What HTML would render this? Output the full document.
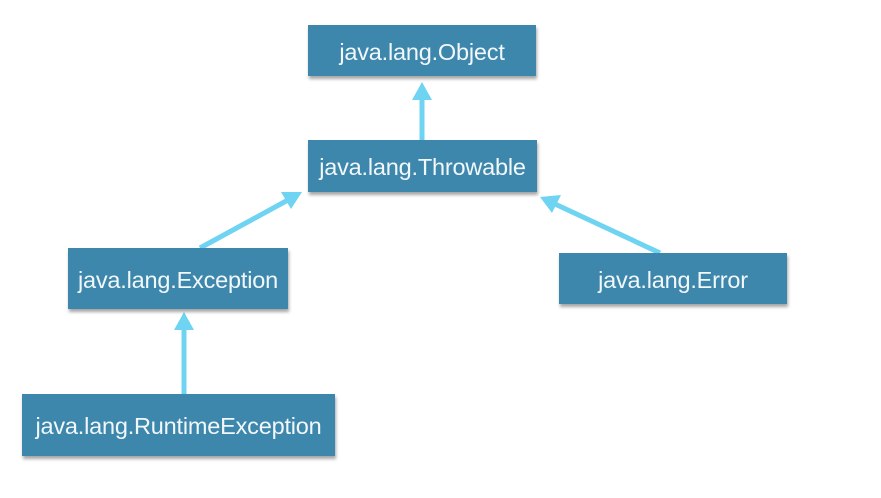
<!DOCTYPE html>
<html><head><style>
body{margin:0;width:881px;height:498px;background:#fff;overflow:hidden;position:relative;font-family:"Liberation Sans",sans-serif}
.b{position:absolute;background:#3d87ad;color:#f2f7fa;font-size:23.5px;display:flex;align-items:center;justify-content:center;box-shadow:1px 3px 3px rgba(0,0,0,0.35);padding-top:3px;box-sizing:border-box;letter-spacing:-0.2px}
svg{position:absolute;left:0;top:0}
</style></head><body>
<svg width="881" height="498">
<g stroke="#6fd3f2" stroke-width="5" fill="#6fd3f2">
<line x1="422" y1="141" x2="422" y2="98"/>
<polygon points="422,82 412,100 432,100" stroke="none"/>
<line x1="200" y1="248" x2="288" y2="200"/>
<polygon points="302,192 281,192 291,209" stroke="none"/>
<line x1="660" y1="253" x2="555" y2="204"/>
<polygon points="540,197 552,213 561,195" stroke="none"/>
<line x1="184" y1="394" x2="184" y2="328"/>
<polygon points="184,312 174,330 194,330" stroke="none"/>
</g>
</svg>
<div class="b" style="left:308px;top:25px;width:228px;height:51px">java.lang.Object</div>
<div class="b" style="left:308px;top:140px;width:229px;height:52px">java.lang.Throwable</div>
<div class="b" style="left:68px;top:248px;width:220px;height:61px">java.lang.Exception</div>
<div class="b" style="left:559px;top:253px;width:228px;height:51px">java.lang.Error</div>
<div class="b" style="left:22px;top:394px;width:313px;height:62px">java.lang.RuntimeException</div>
</body></html>
